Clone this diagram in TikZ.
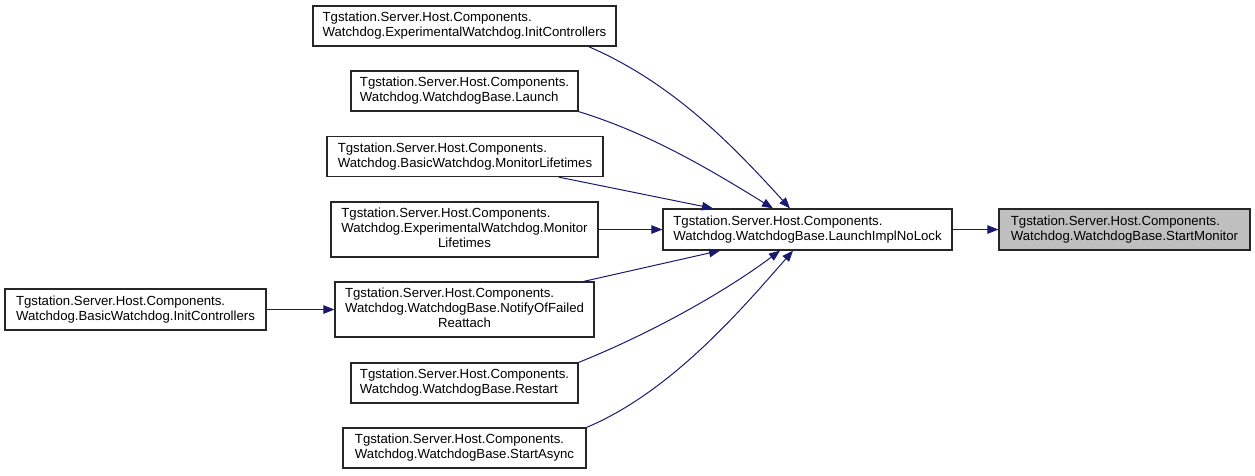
\documentclass[tikz,border=0pt]{standalone}
\usepackage{fontspec}
\setmainfont{Liberation Sans}
\usepackage{tikz}
\usetikzlibrary{arrows.meta}

\definecolor{edgeblue}{HTML}{191970}
\newcommand{\lastline}[3]{\begin{tabular}{@{}l@{}}#1\\#2\\\multicolumn{1}{@{}c@{}}{#3}\end{tabular}}

\begin{document}
\begin{tikzpicture}[x=1pt, y=-1pt,
  every node/.style={font=\fontsize{13.2}{15}\selectfont},
  fn/.style={draw=black!85, line width=1.2pt, fill=white, align=left, inner sep=0pt, minimum height=40pt},
  call/.style={draw=edgeblue, line width=1pt, -{Triangle[length=11pt,width=8.5pt]}}]
  \useasboundingbox (0,0) rectangle (1255,475);
  \node[fn, minimum width=303pt] (expinit) at (464.5,26) {Tgstation.Server.Host.Components.\\Watchdog.ExperimentalWatchdog.InitControllers};
  \node[fn, minimum width=227pt] (launch) at (464.5,91) {Tgstation.Server.Host.Components.\\Watchdog.WatchdogBase.Launch};
  \node[fn, minimum width=276pt] (basicmon) at (465,156.5) {Tgstation.Server.Host.Components.\\Watchdog.BasicWatchdog.MonitorLifetimes};
  \node[fn, minimum width=267pt, minimum height=55pt] (expmon) at (464.5,229.5) {\lastline{Tgstation.Server.Host.Components.}{Watchdog.ExperimentalWatchdog.Monitor}{Lifetimes}};
  \node[fn, minimum width=259pt, minimum height=55pt] (notify) at (464.5,309.5) {\lastline{Tgstation.Server.Host.Components.}{Watchdog.WatchdogBase.NotifyOfFailed}{Reattach}};
  \node[fn, minimum width=227pt] (restart) at (464.5,383) {Tgstation.Server.Host.Components.\\Watchdog.WatchdogBase.Restart};
  \node[fn, minimum width=243pt] (startasync) at (464.5,448) {Tgstation.Server.Host.Components.\\Watchdog.WatchdogBase.StartAsync};
  \node[fn, minimum width=261pt, minimum height=41pt] (basicinit) at (135.5,309.5) {Tgstation.Server.Host.Components.\\Watchdog.BasicWatchdog.InitControllers};
  \node[fn, minimum width=289pt, minimum height=41pt] (launchimpl) at (807.5,229.5) {Tgstation.Server.Host.Components.\\Watchdog.WatchdogBase.LaunchImplNoLock};
  \node[fn, fill=black!25, minimum width=251pt, minimum height=41pt] (startmon) at (1124.5,229.5) {Tgstation.Server.Host.Components.\\Watchdog.WatchdogBase.StartMonitor};

  \draw[call] ([xshift=-28pt]expinit.south east) .. controls +(83,36) and +(-60,-66) .. ([xshift=-17.5pt]launchimpl.north);
  \draw[call] (launch.south east) .. controls +(72,22) and +(-60,-37) .. ([xshift=-34.5pt]launchimpl.north);
  \draw[call] ([xshift=-45pt]basicmon.south east) -- ([xshift=-94.5pt]launchimpl.north);
  \draw[call] (expmon) -- (launchimpl);
  \draw[call] ([xshift=-11pt]notify.north east) -- ([xshift=-87.5pt]launchimpl.south);
  \draw[call] (restart.north east) .. controls +(70,-28) and +(-56,42) .. ([xshift=-27.5pt]launchimpl.south);
  \draw[call] (startasync.north east) .. controls +(83,-35) and +(-55,63) .. ([xshift=-14.5pt]launchimpl.south);
  \draw[call] (launchimpl) -- (startmon);
  \draw[call] (basicinit) -- (notify);
\end{tikzpicture}
\end{document}
